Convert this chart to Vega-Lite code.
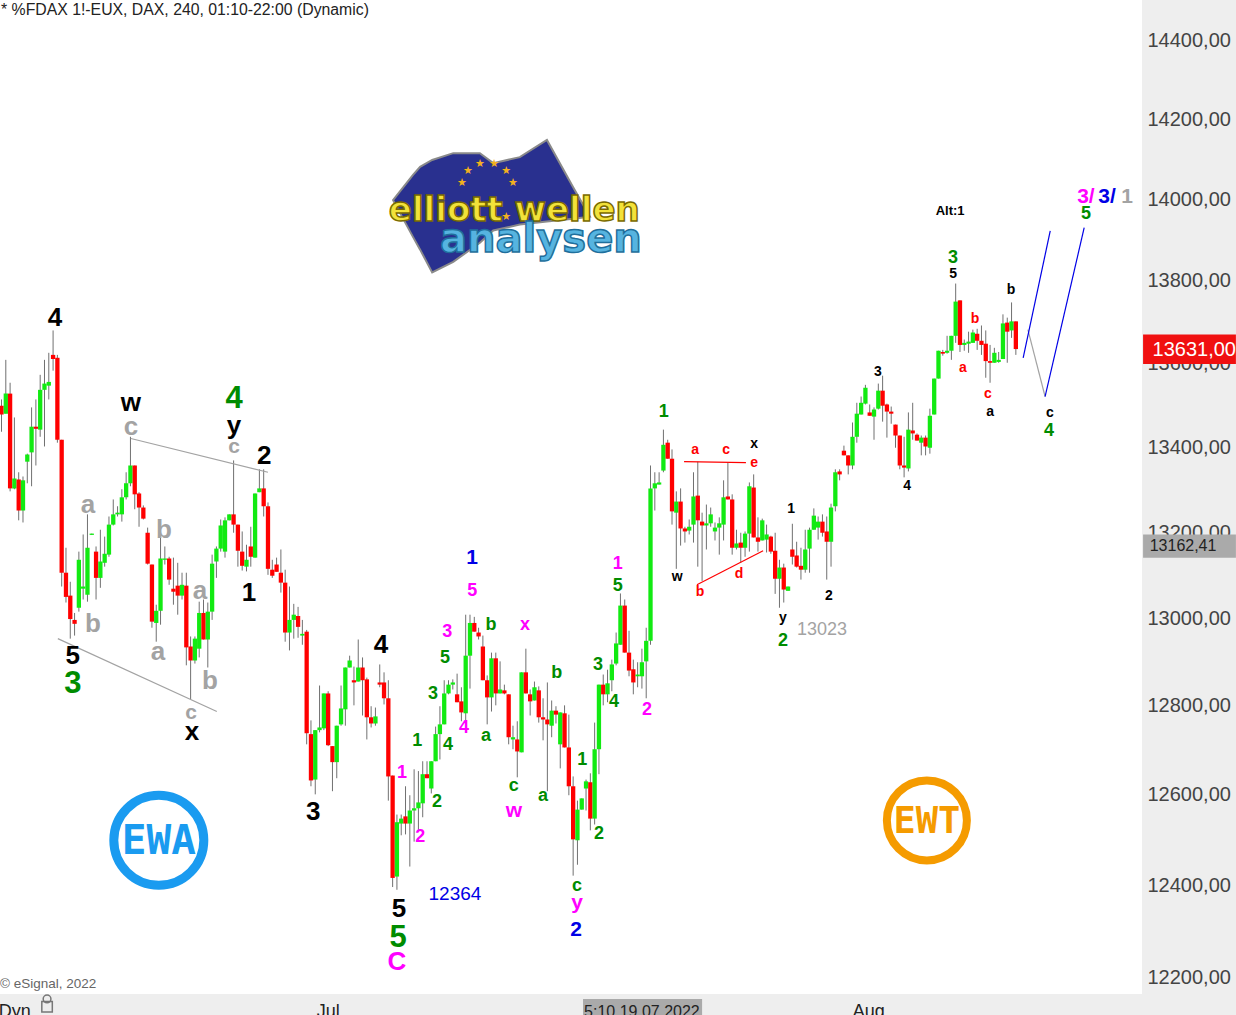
{
"$schema":"https://vega.github.io/schema/vega-lite/v6.json",
"width":1142,"height":994,"autosize":"none","padding":{"left":0,"top":0,"right":94,"bottom":21},
"background":"#eeeeee","view":{"fill":"#ffffff","stroke":null},
"config":{"font":"Liberation Sans"},
"datasets":{
"candles":[
{"t":-1,"o":13471,"h":13485,"l":13430,"c":13448},
{"t":0,"o":13495,"h":13510,"l":13433,"c":13474},
{"t":1,"o":13476,"h":13605,"l":13476,"c":13524},
{"t":2,"o":13524,"h":13550,"l":13292,"c":13299},
{"t":3,"o":13299,"h":13467,"l":13297,"c":13322},
{"t":4,"o":13320,"h":13337,"l":13224,"c":13247},
{"t":5,"o":13247,"h":13327,"l":13219,"c":13318},
{"t":6,"o":13362,"h":13381,"l":13311,"c":13379},
{"t":7,"o":13384,"h":13491,"l":13304,"c":13445},
{"t":8,"o":13445,"h":13510,"l":13353,"c":13440},
{"t":9,"o":13438,"h":13569,"l":13421,"c":13533},
{"t":10,"o":13533,"h":13605,"l":13398,"c":13548},
{"t":11,"o":13543,"h":13622,"l":13510,"c":13552},
{"t":12,"o":13617,"h":13676,"l":13579,"c":13607},
{"t":13,"o":13610,"h":13617,"l":13407,"c":13414},
{"t":14,"o":13414,"h":13414,"l":13070,"c":13102},
{"t":15,"o":13102,"h":13160,"l":13033,"c":13046},
{"t":16,"o":13049,"h":13081,"l":12950,"c":12995},
{"t":17,"o":12993,"h":13009,"l":12957,"c":12984},
{"t":18,"o":13021,"h":13151,"l":13012,"c":13132},
{"t":19,"o":13065,"h":13191,"l":13040,"c":13070},
{"t":20,"o":13051,"h":13238,"l":13035,"c":13160},
{"t":21,"o":13190,"h":13193,"l":13190,"c":13193},
{"t":22,"o":13151,"h":13163,"l":13040,"c":13090},
{"t":23,"o":13090,"h":13202,"l":13067,"c":13128},
{"t":24,"o":13125,"h":13186,"l":13116,"c":13146},
{"t":25,"o":13144,"h":13233,"l":13139,"c":13214},
{"t":26,"o":13214,"h":13273,"l":13212,"c":13238},
{"t":27,"o":13238,"h":13257,"l":13233,"c":13242},
{"t":28,"o":13238,"h":13297,"l":13221,"c":13278},
{"t":29,"o":13278,"h":13337,"l":13273,"c":13311},
{"t":30,"o":13311,"h":13421,"l":13304,"c":13353},
{"t":31,"o":13353,"h":13353,"l":13250,"c":13285},
{"t":32,"o":13287,"h":13290,"l":13209,"c":13254},
{"t":33,"o":13254,"h":13259,"l":13226,"c":13228},
{"t":34,"o":13195,"h":13207,"l":13121,"c":13123},
{"t":35,"o":13121,"h":13121,"l":12975,"c":12989},
{"t":36,"o":12986,"h":13028,"l":12943,"c":13014},
{"t":37,"o":13014,"h":13184,"l":12982,"c":13135},
{"t":38,"o":13132,"h":13163,"l":13121,"c":13135},
{"t":39,"o":13135,"h":13139,"l":13074,"c":13086},
{"t":40,"o":13065,"h":13137,"l":13028,"c":13058},
{"t":41,"o":13072,"h":13125,"l":13005,"c":13049},
{"t":42,"o":13049,"h":13102,"l":13040,"c":13074},
{"t":43,"o":13072,"h":13102,"l":12889,"c":12930},
{"t":44,"o":12932,"h":12955,"l":12811,"c":12900},
{"t":45,"o":12900,"h":12955,"l":12893,"c":12950},
{"t":46,"o":12927,"h":13035,"l":12907,"c":13009},
{"t":47,"o":13009,"h":13040,"l":12948,"c":12948},
{"t":48,"o":12948,"h":13033,"l":12884,"c":13012},
{"t":49,"o":13012,"h":13144,"l":12993,"c":13123},
{"t":50,"o":13128,"h":13163,"l":13090,"c":13158},
{"t":51,"o":13158,"h":13226,"l":13151,"c":13212},
{"t":52,"o":13151,"h":13231,"l":13137,"c":13224},
{"t":53,"o":13224,"h":13238,"l":13224,"c":13238},
{"t":54,"o":13238,"h":13365,"l":13195,"c":13214},
{"t":55,"o":13214,"h":13214,"l":13116,"c":13153},
{"t":56,"o":13151,"h":13198,"l":13107,"c":13118},
{"t":57,"o":13116,"h":13167,"l":13105,"c":13132},
{"t":58,"o":13163,"h":13209,"l":13116,"c":13139},
{"t":59,"o":13137,"h":13287,"l":13137,"c":13287},
{"t":60,"o":13290,"h":13344,"l":13290,"c":13299},
{"t":61,"o":13299,"h":13344,"l":13233,"c":13257},
{"t":62,"o":13257,"h":13266,"l":13097,"c":13111},
{"t":63,"o":13109,"h":13132,"l":13090,"c":13095},
{"t":64,"o":13121,"h":13137,"l":13104,"c":13104},
{"t":65,"o":13102,"h":13156,"l":13056,"c":13079},
{"t":66,"o":13079,"h":13109,"l":12943,"c":12964},
{"t":67,"o":12964,"h":13070,"l":12923,"c":12993},
{"t":68,"o":12993,"h":13030,"l":12950,"c":13005},
{"t":69,"o":13002,"h":13023,"l":12952,"c":12977},
{"t":70,"o":12957,"h":12993,"l":12936,"c":12961},
{"t":71,"o":12966,"h":12970,"l":12710,"c":12735},
{"t":72,"o":12733,"h":12764,"l":12616,"c":12629},
{"t":73,"o":12631,"h":12742,"l":12598,"c":12742},
{"t":74,"o":12742,"h":12843,"l":12737,"c":12748},
{"t":75,"o":12746,"h":12825,"l":12742,"c":12825},
{"t":76,"o":12825,"h":12830,"l":12706,"c":12708},
{"t":77,"o":12706,"h":12706,"l":12605,"c":12670},
{"t":78,"o":12670,"h":12752,"l":12634,"c":12752},
{"t":79,"o":12755,"h":12843,"l":12752,"c":12791},
{"t":80,"o":12789,"h":12884,"l":12752,"c":12884},
{"t":81,"o":12884,"h":12911,"l":12884,"c":12900},
{"t":82,"o":12855,"h":12886,"l":12798,"c":12850},
{"t":83,"o":12852,"h":12948,"l":12852,"c":12884},
{"t":84,"o":12884,"h":12907,"l":12775,"c":12855},
{"t":85,"o":12857,"h":12861,"l":12721,"c":12771},
{"t":86,"o":12771,"h":12796,"l":12748,"c":12757},
{"t":87,"o":12757,"h":12793,"l":12752,"c":12773},
{"t":88,"o":12850,"h":12891,"l":12839,"c":12845},
{"t":89,"o":12850,"h":12873,"l":12800,"c":12814},
{"t":90,"o":12814,"h":12855,"l":12584,"c":12638},
{"t":91,"o":12640,"h":12640,"l":12393,"c":12413},
{"t":92,"o":12416,"h":12553,"l":12387,"c":12536},
{"t":93,"o":12533,"h":12553,"l":12507,"c":12544},
{"t":94,"o":12549,"h":12616,"l":12509,"c":12533},
{"t":95,"o":12533,"h":12596,"l":12438,"c":12562},
{"t":96,"o":12562,"h":12654,"l":12493,"c":12567},
{"t":97,"o":12567,"h":12650,"l":12516,"c":12580},
{"t":98,"o":12578,"h":12672,"l":12547,"c":12643},
{"t":99,"o":12643,"h":12672,"l":12634,"c":12634},
{"t":100,"o":12611,"h":12672,"l":12600,"c":12672},
{"t":101,"o":12672,"h":12750,"l":12672,"c":12733},
{"t":102,"o":12733,"h":12796,"l":12676,"c":12755},
{"t":103,"o":12755,"h":12855,"l":12755,"c":12825},
{"t":104,"o":12825,"h":12855,"l":12823,"c":12845},
{"t":105,"o":12845,"h":12857,"l":12834,"c":12850},
{"t":106,"o":12823,"h":12870,"l":12805,"c":12805},
{"t":107,"o":12807,"h":12839,"l":12762,"c":12782},
{"t":108,"o":12780,"h":13005,"l":12762,"c":12911},
{"t":109,"o":12911,"h":13005,"l":12836,"c":12986},
{"t":110,"o":12986,"h":13000,"l":12966,"c":12966},
{"t":111,"o":12964,"h":12975,"l":12948,"c":12955},
{"t":112,"o":12932,"h":12957,"l":12855,"c":12855},
{"t":113,"o":12855,"h":12866,"l":12755,"c":12816},
{"t":114,"o":12816,"h":12918,"l":12784,"c":12905},
{"t":115,"o":12905,"h":12918,"l":12798,"c":12825},
{"t":116,"o":12825,"h":12898,"l":12825,"c":12834},
{"t":117,"o":12832,"h":12845,"l":12823,"c":12825},
{"t":118,"o":12823,"h":12823,"l":12710,"c":12726},
{"t":119,"o":12721,"h":12752,"l":12699,"c":12726},
{"t":120,"o":12721,"h":12762,"l":12636,"c":12694},
{"t":121,"o":12692,"h":12873,"l":12692,"c":12873},
{"t":122,"o":12873,"h":12927,"l":12825,"c":12825},
{"t":123,"o":12823,"h":12834,"l":12775,"c":12807},
{"t":124,"o":12809,"h":12852,"l":12809,"c":12839},
{"t":125,"o":12832,"h":12841,"l":12759,"c":12771},
{"t":126,"o":12771,"h":12814,"l":12719,"c":12766},
{"t":127,"o":12766,"h":12850,"l":12605,"c":12755},
{"t":128,"o":12752,"h":12809,"l":12726,"c":12786},
{"t":129,"o":12786,"h":12796,"l":12757,"c":12777},
{"t":130,"o":12710,"h":12782,"l":12656,"c":12782},
{"t":131,"o":12780,"h":12798,"l":12703,"c":12703},
{"t":132,"o":12703,"h":12777,"l":12596,"c":12616},
{"t":133,"o":12616,"h":12638,"l":12418,"c":12498},
{"t":134,"o":12496,"h":12584,"l":12442,"c":12564},
{"t":135,"o":12564,"h":12589,"l":12564,"c":12589},
{"t":136,"o":12611,"h":12631,"l":12562,"c":12627},
{"t":137,"o":12625,"h":12645,"l":12518,"c":12544},
{"t":138,"o":12544,"h":12759,"l":12531,"c":12699},
{"t":139,"o":12699,"h":12845,"l":12643,"c":12845},
{"t":140,"o":12845,"h":12868,"l":12798,"c":12823},
{"t":141,"o":12823,"h":12879,"l":12805,"c":12848},
{"t":142,"o":12855,"h":12902,"l":12830,"c":12891},
{"t":143,"o":12893,"h":12964,"l":12889,"c":12939},
{"t":144,"o":12936,"h":13054,"l":12936,"c":13026},
{"t":145,"o":13026,"h":13040,"l":12918,"c":12918},
{"t":146,"o":12918,"h":12968,"l":12864,"c":12877},
{"t":147,"o":12880,"h":12902,"l":12823,"c":12850},
{"t":148,"o":12864,"h":12896,"l":12839,"c":12868},
{"t":149,"o":12864,"h":12927,"l":12836,"c":12896},
{"t":150,"o":12898,"h":12975,"l":12814,"c":12945},
{"t":151,"o":12945,"h":13353,"l":12936,"c":13299},
{"t":152,"o":13299,"h":13337,"l":13247,"c":13311},
{"t":153,"o":13308,"h":13337,"l":13308,"c":13313},
{"t":154,"o":13341,"h":13438,"l":13337,"c":13402},
{"t":155,"o":13407,"h":13414,"l":13369,"c":13369},
{"t":156,"o":13369,"h":13391,"l":13214,"c":13245},
{"t":157,"o":13242,"h":13292,"l":13111,"c":13268},
{"t":158,"o":13268,"h":13299,"l":13165,"c":13205},
{"t":159,"o":13205,"h":13209,"l":13172,"c":13198},
{"t":160,"o":13200,"h":13226,"l":13191,"c":13209},
{"t":161,"o":13214,"h":13337,"l":13172,"c":13280},
{"t":162,"o":13282,"h":13362,"l":13116,"c":13224},
{"t":163,"o":13221,"h":13242,"l":13083,"c":13212},
{"t":164,"o":13212,"h":13261,"l":13156,"c":13217},
{"t":165,"o":13217,"h":13254,"l":13209,"c":13238},
{"t":166,"o":13198,"h":13219,"l":13177,"c":13207},
{"t":167,"o":13207,"h":13231,"l":13144,"c":13217},
{"t":168,"o":13214,"h":13318,"l":13177,"c":13278},
{"t":169,"o":13280,"h":13360,"l":13273,"c":13273},
{"t":170,"o":13273,"h":13285,"l":13144,"c":13160},
{"t":171,"o":13160,"h":13202,"l":13156,"c":13170},
{"t":172,"o":13172,"h":13195,"l":13125,"c":13160},
{"t":173,"o":13160,"h":13198,"l":13139,"c":13193},
{"t":174,"o":13193,"h":13313,"l":13151,"c":13304},
{"t":175,"o":13301,"h":13332,"l":13184,"c":13184},
{"t":176,"o":13184,"h":13231,"l":13151,"c":13174},
{"t":177,"o":13177,"h":13228,"l":13177,"c":13224},
{"t":178,"o":13179,"h":13214,"l":13149,"c":13191},
{"t":179,"o":13186,"h":13188,"l":13146,"c":13151},
{"t":180,"o":13153,"h":13195,"l":13053,"c":13088},
{"t":181,"o":13088,"h":13132,"l":13021,"c":13114},
{"t":182,"o":13114,"h":13123,"l":13033,"c":13063},
{"t":183,"o":13060,"h":13070,"l":13060,"c":13070},
{"t":184,"o":13156,"h":13216,"l":13121,"c":13139},
{"t":185,"o":13142,"h":13174,"l":13114,"c":13116},
{"t":186,"o":13118,"h":13160,"l":13086,"c":13109},
{"t":187,"o":13109,"h":13202,"l":13102,"c":13156},
{"t":188,"o":13158,"h":13207,"l":13102,"c":13202},
{"t":189,"o":13202,"h":13252,"l":13202,"c":13235},
{"t":190,"o":13207,"h":13233,"l":13179,"c":13221},
{"t":191,"o":13221,"h":13238,"l":13186,"c":13195},
{"t":192,"o":13198,"h":13233,"l":13086,"c":13174},
{"t":193,"o":13174,"h":13263,"l":13116,"c":13254},
{"t":194,"o":13257,"h":13344,"l":13245,"c":13337},
{"t":195,"o":13339,"h":13344,"l":13318,"c":13332},
{"t":196,"o":13388,"h":13400,"l":13377,"c":13377},
{"t":197,"o":13377,"h":13377,"l":13332,"c":13353},
{"t":198,"o":13353,"h":13455,"l":13344,"c":13421},
{"t":199,"o":13421,"h":13502,"l":13407,"c":13476},
{"t":200,"o":13474,"h":13517,"l":13474,"c":13502},
{"t":201,"o":13500,"h":13545,"l":13498,"c":13538},
{"t":202,"o":13479,"h":13498,"l":13471,"c":13471},
{"t":203,"o":13469,"h":13491,"l":13414,"c":13486},
{"t":204,"o":13488,"h":13548,"l":13486,"c":13531},
{"t":205,"o":13531,"h":13567,"l":13457,"c":13495},
{"t":206,"o":13498,"h":13500,"l":13419,"c":13481},
{"t":207,"o":13481,"h":13493,"l":13452,"c":13476},
{"t":208,"o":13450,"h":13450,"l":13395,"c":13424},
{"t":209,"o":13424,"h":13424,"l":13344,"c":13353},
{"t":210,"o":13353,"h":13421,"l":13325,"c":13348},
{"t":211,"o":13346,"h":13479,"l":13339,"c":13438},
{"t":212,"o":13436,"h":13502,"l":13414,"c":13429},
{"t":213,"o":13426,"h":13429,"l":13412,"c":13412},
{"t":214,"o":13407,"h":13424,"l":13377,"c":13419},
{"t":215,"o":13419,"h":13424,"l":13377,"c":13398},
{"t":216,"o":13395,"h":13488,"l":13381,"c":13471},
{"t":217,"o":13474,"h":13560,"l":13474,"c":13560},
{"t":218,"o":13560,"h":13627,"l":13560,"c":13627},
{"t":219,"o":13624,"h":13629,"l":13615,"c":13620},
{"t":220,"o":13622,"h":13663,"l":13620,"c":13627},
{"t":221,"o":13627,"h":13663,"l":13605,"c":13663},
{"t":222,"o":13663,"h":13790,"l":13646,"c":13746},
{"t":223,"o":13749,"h":13749,"l":13624,"c":13641},
{"t":224,"o":13641,"h":13654,"l":13627,"c":13646},
{"t":225,"o":13644,"h":13673,"l":13622,"c":13649},
{"t":226,"o":13646,"h":13678,"l":13646,"c":13671},
{"t":227,"o":13668,"h":13680,"l":13629,"c":13651},
{"t":228,"o":13651,"h":13688,"l":13617,"c":13641},
{"t":229,"o":13644,"h":13676,"l":13562,"c":13602},
{"t":230,"o":13602,"h":13641,"l":13550,"c":13598},
{"t":231,"o":13598,"h":13634,"l":13598,"c":13622},
{"t":232,"o":13600,"h":13624,"l":13598,"c":13605},
{"t":233,"o":13607,"h":13715,"l":13607,"c":13693},
{"t":234,"o":13695,"h":13707,"l":13598,"c":13673},
{"t":235,"o":13676,"h":13744,"l":13658,"c":13698},
{"t":236,"o":13698,"h":13698,"l":13617,"c":13631}
],
"waves":[
{"t":12.45,"p":13712,"s":"4","w":"black","z":"L"},
{"t":30.1,"p":13507,"s":"w","w":"black","z":"L"},
{"t":54.1,"p":13517,"s":"4","w":"green","z":"XL"},
{"t":54.1,"p":13452,"s":"y","w":"black","z":"L"},
{"t":30.1,"p":13448,"s":"c","w":"gray","z":"L"},
{"t":54.1,"p":13398,"s":"c","w":"gray","z":"M"},
{"t":61.1,"p":13381,"s":"2","w":"black","z":"L"},
{"t":20.1,"p":13264,"s":"a","w":"gray","z":"L"},
{"t":37.8,"p":13207,"s":"b","w":"gray","z":"L"},
{"t":46.2,"p":13065,"s":"a","w":"gray","z":"L"},
{"t":57.6,"p":13060,"s":"1","w":"black","z":"L"},
{"t":21.3,"p":12989,"s":"b","w":"gray","z":"L"},
{"t":36.4,"p":12925,"s":"a","w":"gray","z":"L"},
{"t":16.6,"p":12914,"s":"5","w":"black","z":"L"},
{"t":16.6,"p":12850,"s":"3","w":"green","z":"XL"},
{"t":48.5,"p":12857,"s":"b","w":"gray","z":"L"},
{"t":44.1,"p":12782,"s":"c","w":"gray","z":"M"},
{"t":44.3,"p":12742,"s":"x","w":"black","z":"L"},
{"t":72.5,"p":12564,"s":"3","w":"black","z":"L"},
{"t":88.3,"p":12939,"s":"4","w":"black","z":"L"},
{"t":109.5,"p":13139,"s":"1","w":"blue","z":"M"},
{"t":109.5,"p":13063,"s":"5","w":"magenta","z":"S"},
{"t":103.7,"p":12968,"s":"3","w":"magenta","z":"S"},
{"t":113.9,"p":12984,"s":"b","w":"green","z":"S"},
{"t":121.8,"p":12984,"s":"x","w":"magenta","z":"S"},
{"t":103.2,"p":12907,"s":"5","w":"green","z":"S"},
{"t":100.4,"p":12827,"s":"3","w":"green","z":"S"},
{"t":107.6,"p":12748,"s":"4","w":"magenta","z":"S"},
{"t":112.7,"p":12730,"s":"a","w":"green","z":"S"},
{"t":96.7,"p":12719,"s":"1","w":"green","z":"S"},
{"t":103.9,"p":12710,"s":"4","w":"green","z":"S"},
{"t":93.2,"p":12647,"s":"1","w":"magenta","z":"S"},
{"t":101.3,"p":12584,"s":"2","w":"green","z":"S"},
{"t":97.4,"p":12505,"s":"2","w":"magenta","z":"S"},
{"t":129.2,"p":12873,"s":"b","w":"green","z":"S"},
{"t":119.2,"p":12618,"s":"c","w":"green","z":"S"},
{"t":119.2,"p":12564,"s":"w","w":"magenta","z":"M"},
{"t":126,"p":12596,"s":"a","w":"green","z":"S"},
{"t":135.1,"p":12676,"s":"1","w":"green","z":"S"},
{"t":139,"p":12511,"s":"2","w":"green","z":"S"},
{"t":133.9,"p":12398,"s":"c","w":"green","z":"S"},
{"t":133.9,"p":12361,"s":"y","w":"magenta","z":"M"},
{"t":133.7,"p":12302,"s":"2","w":"blue","z":"M"},
{"t":92.5,"p":12350,"s":"5","w":"black","z":"L"},
{"t":92.3,"p":12287,"s":"5","w":"green","z":"XL"},
{"t":92,"p":12233,"s":"C","w":"magenta","z":"L"},
{"t":138.8,"p":12891,"s":"3","w":"green","z":"S"},
{"t":142.5,"p":12807,"s":"4","w":"green","z":"S"},
{"t":150.2,"p":12789,"s":"2","w":"magenta","z":"S"},
{"t":143.4,"p":13125,"s":"1","w":"magenta","z":"S"},
{"t":143.4,"p":13074,"s":"5","w":"green","z":"S"},
{"t":154.1,"p":13483,"s":"1","w":"green","z":"S"},
{"t":161.4,"p":13391,"s":"a","w":"red","z":"XS"},
{"t":168.6,"p":13391,"s":"c","w":"red","z":"XS"},
{"t":175.1,"p":13407,"s":"x","w":"black","z":"XS"},
{"t":175.1,"p":13362,"s":"e","w":"red","z":"XS"},
{"t":157.2,"p":13095,"s":"w","w":"black","z":"XS"},
{"t":162.5,"p":13060,"s":"b","w":"red","z":"XS"},
{"t":171.6,"p":13102,"s":"d","w":"red","z":"XS"},
{"t":181.8,"p":13000,"s":"y","w":"black","z":"XS"},
{"t":181.8,"p":12948,"s":"2","w":"green","z":"S"},
{"t":183.7,"p":13252,"s":"1","w":"black","z":"XS"},
{"t":192.5,"p":13051,"s":"2","w":"black","z":"XS"},
{"t":203.9,"p":13579,"s":"3","w":"black","z":"XS"},
{"t":210.7,"p":13308,"s":"4","w":"black","z":"XS"},
{"t":220.7,"p":13971,"s":"Alt:1","w":"black","z":"XXS"},
{"t":221.4,"p":13855,"s":"3","w":"green","z":"S"},
{"t":221.4,"p":13815,"s":"5","w":"black","z":"XS"},
{"t":226.5,"p":13705,"s":"b","w":"red","z":"XS"},
{"t":223.7,"p":13588,"s":"a","w":"red","z":"XS"},
{"t":229.5,"p":13526,"s":"c","w":"red","z":"XS"},
{"t":230,"p":13483,"s":"a","w":"black","z":"XS"},
{"t":234.9,"p":13776,"s":"b","w":"black","z":"XS"},
{"t":243.9,"p":13481,"s":"c","w":"black","z":"XS"},
{"t":243.7,"p":13438,"s":"4","w":"green","z":"S"},
{"t":252.3,"p":13963,"s":"5","w":"green","z":"S"},
{"t":252.3,"p":14005,"s":"3/","w":"magenta","z":"M"},
{"t":257.2,"p":14005,"s":"3/","w":"blue","z":"M"},
{"t":261.9,"p":14005,"s":"1","w":"gray","z":"M"}
],
"trend":[
{"g":"a","w":"gray","t":30.1,"p":13417},{"g":"a","w":"gray","t":62,"p":13337},
{"g":"b","w":"gray","t":13.1,"p":12950},{"g":"b","w":"gray","t":50.1,"p":12784},
{"g":"c","w":"red","t":158.8,"p":13362},{"g":"c","w":"red","t":173.2,"p":13360},
{"g":"d","w":"red","t":161.8,"p":13074},{"g":"d","w":"red","t":177.2,"p":13153},
{"g":"e","w":"gray","t":238.8,"p":13678},{"g":"e","w":"gray","t":242.8,"p":13517},
{"g":"f","w":"blue","t":237.7,"p":13610},{"g":"f","w":"blue","t":244,"p":13919},
{"g":"h","w":"blue","t":242.8,"p":13517},{"g":"h","w":"blue","t":251.9,"p":13927}
],
"flag":[
{"t":91.1,"p":13995,"q":13995},{"t":95.7,"p":14057,"q":13905},{"t":97.4,"p":14078,"q":13873},
{"t":100.2,"p":14095,"q":13817},{"t":105.1,"p":14112,"q":13843},{"t":111.3,"p":14112,"q":13890},
{"t":114.4,"p":14087,"q":13920},{"t":120.6,"p":14102,"q":13935},{"t":126.9,"p":14145,"q":13942},
{"t":133,"p":14027,"q":13949},{"t":136.9,"p":13954,"q":13954}
],
"stars":[
{"t":111.3,"p":14085},{"t":114.6,"p":14085},{"t":117.4,"p":14067},{"t":119,"p":14037},
{"t":108.5,"p":14067},{"t":107.1,"p":14037},{"t":117.4,"p":13953}
]
},
"layer":[
{"data":{"name":"candles"},"mark":{"type":"rule","color":"#707070","strokeWidth":1,"clip":true},
 "encoding":{
  "x":{"field":"t","type":"quantitative","axis":null,"scale":{"domain":[-0.35,265.35],"nice":false,"zero":false,"padding":0}},
  "y":{"field":"l","type":"quantitative","title":null,
   "scale":{"type":"log","domain":[12160.6,14499.7],"nice":false,"padding":0},
   "axis":{"orient":"right","values":[12200,12400,12600,12800,13000,13200,13400,13600,13800,14000,14200,14400],"grid":false,"domain":false,"ticks":false,"title":null,"labelFont":"Liberation Sans","labelFontSize":20,"labelColor":"#444444","labelPadding":5,"labelOffset":1.5,"labelOverlap":false,"labelBound":false,"labelFlush":false,"labelExpr":"replace(format(datum.value,'.2f'),'.',',')"}},
  "y2":{"field":"h"}}},
{"data":{"name":"flag"},"mark":{"type":"area","color":"#29308f","stroke":"#8a8a8a","strokeWidth":2},
 "encoding":{"x":{"field":"t","type":"quantitative"},"y":{"field":"p","type":"quantitative"},"y2":{"field":"q"}}},
{"data":{"name":"stars"},"mark":{"type":"text","text":"★","fontSize":11,"color":"#f2b01e","font":"DejaVu Sans"},
 "encoding":{"x":{"field":"t","type":"quantitative"},"y":{"field":"p","type":"quantitative"}}},
{"data":{"values":[{"t":119.3,"p":13968,"s":"elliott wellen"}]},"mark":{"type":"text","font":"DejaVu Sans","fontWeight":"bold","fontSize":34,"color":"#f2e23a","stroke":"#7a6a00","strokeWidth":1.5},
 "encoding":{"x":{"field":"t","type":"quantitative"},"y":{"field":"p","type":"quantitative"},"text":{"field":"s"}}},
{"data":{"values":[{"t":125.5,"p":13897,"s":"analysen"}]},"mark":{"type":"text","font":"DejaVu Sans","fontWeight":"bold","fontSize":40,"color":"#56b4e0","stroke":"#1f6f9c","strokeWidth":1.5},
 "encoding":{"x":{"field":"t","type":"quantitative"},"y":{"field":"p","type":"quantitative"},"text":{"field":"s"}}},
{"data":{"name":"candles"},"mark":{"type":"bar","size":4.3,"clip":true},
 "encoding":{"x":{"field":"t","type":"quantitative"},"y":{"field":"o","type":"quantitative"},"y2":{"field":"c"},
  "color":{"condition":{"test":"datum.c>=datum.o","value":"#12ea12"},"value":"#ff0000"}}},
{"data":{"name":"trend"},"mark":{"type":"line","strokeWidth":1.2},
 "encoding":{"x":{"field":"t","type":"quantitative"},"y":{"field":"p","type":"quantitative"},"detail":{"field":"g"},
  "color":{"field":"w","type":"nominal","legend":null,"scale":{"domain":["black","green","gray","magenta","blue","red"],"range":["#000000","#008c00","#a3a3a3","#ff00ff","#0000e6","#ff0000"]}}}},
{"data":{"name":"waves"},"transform":[{"filter":"datum.z=='XXS'"}],"mark":{"type":"text","fontWeight":"bold","fontSize":13,"dy":1},
 "encoding":{"x":{"field":"t","type":"quantitative"},"y":{"field":"p","type":"quantitative"},"text":{"field":"s"},
  "color":{"field":"w","type":"nominal","legend":null}}},
{"data":{"name":"waves"},"transform":[{"filter":"datum.z=='XS'"}],"mark":{"type":"text","fontWeight":"bold","fontSize":14,"dy":1},
 "encoding":{"x":{"field":"t","type":"quantitative"},"y":{"field":"p","type":"quantitative"},"text":{"field":"s"},
  "color":{"field":"w","type":"nominal","legend":null}}},
{"data":{"name":"waves"},"transform":[{"filter":"datum.z=='S'"}],"mark":{"type":"text","fontWeight":"bold","fontSize":18,"dy":1},
 "encoding":{"x":{"field":"t","type":"quantitative"},"y":{"field":"p","type":"quantitative"},"text":{"field":"s"},
  "color":{"field":"w","type":"nominal","legend":null}}},
{"data":{"name":"waves"},"transform":[{"filter":"datum.z=='M'"}],"mark":{"type":"text","fontWeight":"bold","fontSize":21,"dy":1},
 "encoding":{"x":{"field":"t","type":"quantitative"},"y":{"field":"p","type":"quantitative"},"text":{"field":"s"},
  "color":{"field":"w","type":"nominal","legend":null}}},
{"data":{"name":"waves"},"transform":[{"filter":"datum.z=='L'"}],"mark":{"type":"text","fontWeight":"bold","fontSize":26,"dy":2},
 "encoding":{"x":{"field":"t","type":"quantitative"},"y":{"field":"p","type":"quantitative"},"text":{"field":"s"},
  "color":{"field":"w","type":"nominal","legend":null}}},
{"data":{"name":"waves"},"transform":[{"filter":"datum.z=='XL'"}],"mark":{"type":"text","fontWeight":"bold","fontSize":31,"dy":2},
 "encoding":{"x":{"field":"t","type":"quantitative"},"y":{"field":"p","type":"quantitative"},"text":{"field":"s"},
  "color":{"field":"w","type":"nominal","legend":null}}},
{"data":{"values":[{"t":105.5,"p":12378,"s":"12364"}]},"mark":{"type":"text","fontSize":19,"color":"#0000e6"},
 "encoding":{"x":{"field":"t","type":"quantitative"},"y":{"field":"p","type":"quantitative"},"text":{"field":"s"}}},
{"data":{"values":[{"t":190.9,"p":12970,"s":"13023"}]},"mark":{"type":"text","fontSize":18,"color":"#a3a3a3"},
 "encoding":{"x":{"field":"t","type":"quantitative"},"y":{"field":"p","type":"quantitative"},"text":{"field":"s"}}},
{"data":{"values":[{"t":36.6,"p":12496,"b":"EWA"}]},"mark":{"type":"point","size":8100,"filled":false,"shape":"circle","strokeWidth":9,"color":"#1a9bf0","opacity":1},
 "encoding":{"x":{"field":"t","type":"quantitative"},"y":{"field":"p","type":"quantitative"}}},
{"data":{"values":[{"t":36.6,"p":12496,"b":"EWA"}]},"mark":{"type":"text","font":"DejaVu Sans Mono","fontWeight":"bold","fontSize":41,"dy":2,"color":"#1a9bf0"},
 "encoding":{"x":{"field":"t","type":"quantitative"},"y":{"field":"p","type":"quantitative"},"text":{"field":"b"}}},
{"data":{"values":[{"t":215.3,"p":12540,"b":"EWT"}]},"mark":{"type":"point","size":6400,"filled":false,"shape":"circle","strokeWidth":8,"color":"#f59b00","opacity":1},
 "encoding":{"x":{"field":"t","type":"quantitative"},"y":{"field":"p","type":"quantitative"}}},
{"data":{"values":[{"t":215.3,"p":12540,"b":"EWT"}]},"mark":{"type":"text","font":"DejaVu Sans Mono","fontWeight":"bold","fontSize":37,"dy":2,"color":"#f59b00"},
 "encoding":{"x":{"field":"t","type":"quantitative"},"y":{"field":"p","type":"quantitative"},"text":{"field":"b"}}},
{"data":{"values":[{"t":265.6,"t2":287.2,"p":13666,"q":13595}]},"mark":{"type":"rect","color":"#f01010"},
 "encoding":{"x":{"field":"t","type":"quantitative"},"x2":{"field":"t2"},"y":{"field":"p","type":"quantitative"},"y2":{"field":"q"}}},
{"data":{"values":[{"t":265.6,"t2":287.2,"p":13191,"q":13137}]},"mark":{"type":"rect","color":"#aaaaaa"},
 "encoding":{"x":{"field":"t","type":"quantitative"},"x2":{"field":"t2"},"y":{"field":"p","type":"quantitative"},"y2":{"field":"q"}}},
{"data":{"values":[{"t":135.3,"t2":163,"p":12150,"q":12105}]},"mark":{"type":"rect","color":"#aaaaaa"},
 "encoding":{"x":{"field":"t","type":"quantitative"},"x2":{"field":"t2"},"y":{"field":"p","type":"quantitative"},"y2":{"field":"q"}}},
{"data":{"values":[{"t":277.5,"p":13629,"s":"13631,00"}]},"mark":{"type":"text","fontSize":20,"color":"#ffffff"},
 "encoding":{"x":{"field":"t","type":"quantitative"},"y":{"field":"p","type":"quantitative"},"text":{"field":"s"}}},
{"data":{"values":[{"t":274.9,"p":13163,"s":"13162,41"}]},"mark":{"type":"text","fontSize":16,"color":"#222222"},
 "encoding":{"x":{"field":"t","type":"quantitative"},"y":{"field":"p","type":"quantitative"},"text":{"field":"s"}}},
{"data":{"values":[{"t":-0.1,"p":14473,"s":"* %FDAX 1!-EUX, DAX, 240, 01:10-22:00 (Dynamic)"}]},"mark":{"type":"text","fontSize":15.8,"align":"left","color":"#222222"},
 "encoding":{"x":{"field":"t","type":"quantitative"},"y":{"field":"p","type":"quantitative"},"text":{"field":"s"}}},
{"data":{"values":[{"t":-0.35,"p":12183,"s":"© eSignal, 2022"}]},"mark":{"type":"text","fontSize":13.5,"align":"left","color":"#666666"},
 "encoding":{"x":{"field":"t","type":"quantitative"},"y":{"field":"p","type":"quantitative"},"text":{"field":"s"}}},
{"data":{"values":[{"t":3.1,"p":12122,"s":"Dyn"},{"t":76,"p":12122,"s":"Jul"},{"t":201.8,"p":12122,"s":"Aug"}]},"mark":{"type":"text","fontSize":18,"color":"#222222"},
 "encoding":{"x":{"field":"t","type":"quantitative"},"y":{"field":"p","type":"quantitative"},"text":{"field":"s"}}},
{"data":{"values":[{"t":149,"p":12122,"s":"5:10 19.07.2022"}]},"mark":{"type":"text","fontSize":16,"color":"#222222"},
 "encoding":{"x":{"field":"t","type":"quantitative"},"y":{"field":"p","type":"quantitative"},"text":{"field":"s"}}},
{"data":{"values":[{"t":10.6,"p":12133}]},"mark":{"type":"point","shape":"square","size":110,"filled":false,"color":"#777777","strokeWidth":1.5,"opacity":1},
 "encoding":{"x":{"field":"t","type":"quantitative"},"y":{"field":"p","type":"quantitative"}}},
{"data":{"values":[{"t":10.6,"p":12150}]},"mark":{"type":"point","shape":"circle","size":60,"filled":false,"color":"#777777","strokeWidth":1.5,"opacity":1},
 "encoding":{"x":{"field":"t","type":"quantitative"},"y":{"field":"p","type":"quantitative"}}}
]
}
